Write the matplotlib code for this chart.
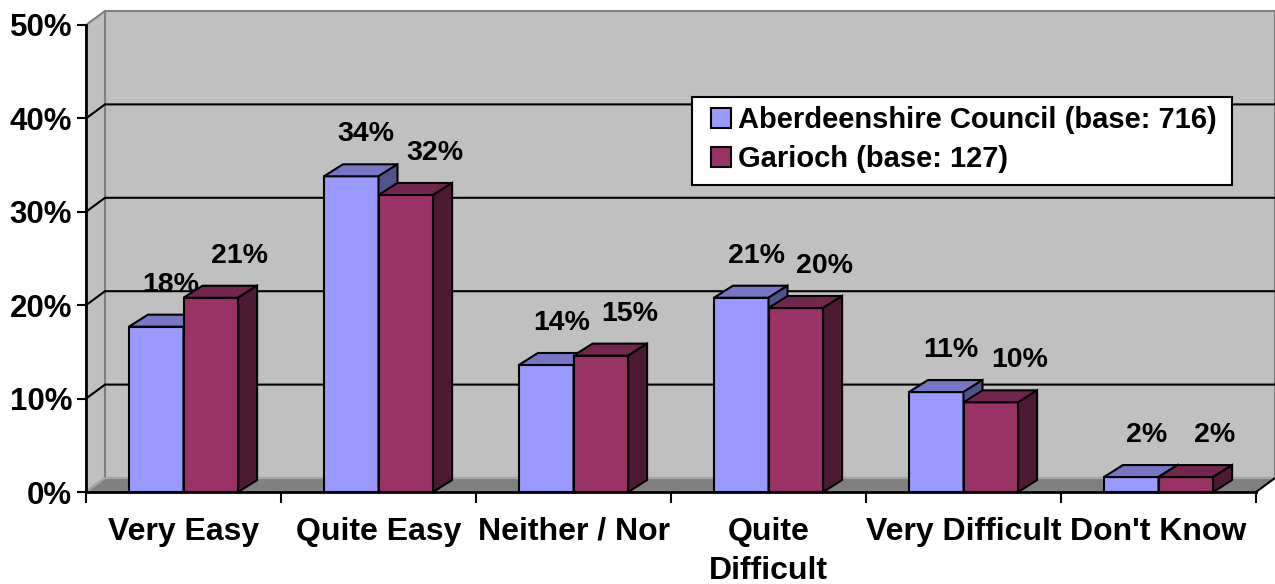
import matplotlib
matplotlib.use("Agg")
import matplotlib.pyplot as plt
from matplotlib.patches import Polygon, Patch, Rectangle
from matplotlib.transforms import IdentityTransform

categories = ["Very Easy", "Quite Easy", "Neither / Nor", "Quite\nDifficult",
              "Very Difficult", "Don't Know"]
aberdeenshire = [17.7, 33.8, 13.6, 20.8, 10.7, 1.6]
garioch = [20.8, 31.8, 14.6, 19.7, 9.6, 1.6]
series_names = ["Aberdeenshire Council (base: 716)", "Garioch (base: 127)"]
y_ticks = [0, 10, 20, 30, 40, 50]

front_colors = ["#9999FF", "#993366"]
top_colors = ["#7676C4", "#73264D"]
side_colors = ["#53538C", "#4D1A33"]

plt.rcParams['font.family'] = ['Liberation Sans', 'DejaVu Sans']
plt.rcParams['font.weight'] = 'bold'

W, H = 1275, 584
fig = plt.figure(figsize=(W / 100, H / 100), dpi=100)
ax = fig.add_axes([86 / W, 92 / H, 1170 / W, 467 / H])
n = len(categories)
ax.set_xlim(0, n)
ax.set_ylim(0, 50)
ax.patch.set_visible(False)

WALL = (19, 14)   # depth offset of the back wall, pixels
BAR = (19, 12)    # depth offset of the bars, pixels


def to_px(points, depth):
    # data points -> display pixels, pushed back by a depth offset where flagged
    out = []
    for (x, y, d) in points:
        px, py = ax.transData.transform((x, y))
        out.append((px + d * depth[0], py + d * depth[1]))
    return out


def face(points, depth, **kw):
    p = Polygon(to_px(points, depth), closed=True, transform=IdentityTransform(),
                clip_on=False, **kw)
    ax.add_patch(p)


def edge(points, depth, **kw):
    xy = to_px(points, depth)
    ax.plot([a for a, b in xy], [b for a, b in xy], transform=IdentityTransform(),
            clip_on=False, solid_capstyle='butt', **kw)


top = y_ticks[-1]
# walls and floor
face([(0, 0, 1), (n, 0, 1), (n, top, 1), (0, top, 1)], WALL,
     facecolor="#C0C0C0", edgecolor="#808080", linewidth=1.5, zorder=1)
face([(0, 0, 0), (0, top, 0), (0, top, 1), (0, 0, 1)], WALL,
     facecolor="#C0C0C0", edgecolor="#808080", linewidth=1.5, zorder=1)
face([(0, 0, 0), (n, 0, 0), (n, 0, 1), (0, 0, 1)], WALL,
     facecolor="#808080", edgecolor="none", zorder=1.2)
edge([(0, 0, 1), (n, 0, 1)], WALL, color="#A6A6A6", linewidth=1.5, zorder=1.3)
edge([(0, 0, 0), (0, 0, 1)], WALL, color="#A6A6A6", linewidth=1.5, zorder=1.3)
edge([(n, 0, 0), (n, 0, 1)], WALL, color="black", linewidth=1.5, zorder=1.3)

# gridlines on side and back walls
for v in y_ticks[1:-1]:
    edge([(0, v, 0), (0, v, 1), (n, v, 1)], WALL, color="black", linewidth=1.5,
         zorder=2)

# bars
bw = 0.28
for i in range(n):
    for s, vals in enumerate([aberdeenshire, garioch]):
        v = vals[i]
        x0 = i + 0.5 - bw + s * bw
        x1 = x0 + bw
        z = 3 + 2 * s
        kw = dict(edgecolor="black", linewidth=1.5, zorder=z, joinstyle='miter')
        face([(x0, 0, 0), (x1, 0, 0), (x1, v, 0), (x0, v, 0)], BAR,
             facecolor=front_colors[s], **kw)
        face([(x0, v, 0), (x1, v, 0), (x1, v, 1), (x0, v, 1)], BAR,
             facecolor=top_colors[s], **kw)
        face([(x1, 0, 0), (x1, 0, 1), (x1, v, 1), (x1, v, 0)], BAR,
             facecolor=side_colors[s], **kw)
        ax.annotate(f"{round(v)}%", xy=((x0 + x1) / 2, v),
                    xytext=(15 if s == 0 else 29, 42), textcoords='offset pixels',
                    ha='center', va='center', fontsize=20.5, fontweight='bold',
                    zorder=z + 1, annotation_clip=False)

# axes
for side in ['top', 'right']:
    ax.spines[side].set_visible(False)
for side in ['left', 'bottom']:
    ax.spines[side].set_linewidth(2)
    ax.spines[side].set_color("black")
    ax.spines[side].set_zorder(8)

ax.set_yticks(y_ticks)
ax.set_yticklabels([f"{t}%" for t in y_ticks])
ax.tick_params(axis='y', length=6.5, width=1.5, pad=3.5, labelsize=22.5)

ax.set_xticks(range(n + 1))
ax.set_xticklabels([])
ax.set_xticks([i + 0.5 for i in range(n)], minor=True)
ax.set_xticklabels(categories, minor=True, linespacing=1.38)
ax.tick_params(axis='x', which='major', length=8, width=1.5)
ax.tick_params(axis='x', which='minor', length=0, pad=18, labelsize=23)

# legend: entries from fig.legend, box drawn behind them
fig.add_artist(Rectangle((692 / W, 1 - 185 / H), 540 / W, 88 / H,
                         transform=fig.transFigure, facecolor="white",
                         edgecolor="black", linewidth=1.5, zorder=19))
handles = [Patch(facecolor=c, edgecolor="black", linewidth=1.5) for c in front_colors]
leg = fig.legend(handles, series_names, loc='upper left',
                 bbox_to_anchor=(711 / W, 1 - 106 / H), bbox_transform=fig.transFigure,
                 fontsize=21, frameon=False, borderaxespad=0, borderpad=0,
                 handlelength=0.7, handleheight=0.7, handletextpad=0.24,
                 labelspacing=0.38)
leg.set_zorder(20)

fig.savefig("out.png", dpi=100, facecolor="white")
